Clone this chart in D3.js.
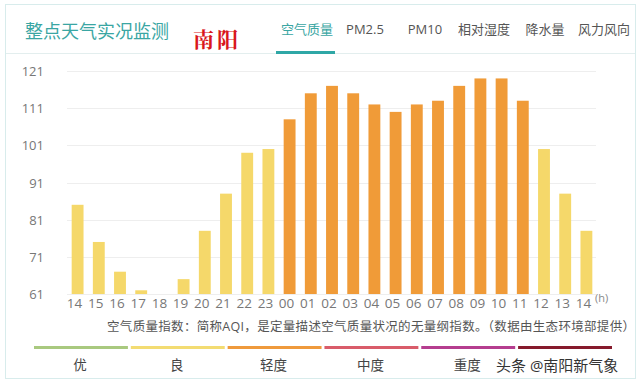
<!DOCTYPE html>
<html>
<head>
<meta charset="utf-8">
<script src="https://cdn.jsdelivr.net/npm/d3@7"></script>
<style>
  body { margin: 0; background: #fff; }
  svg text { font-family: "Open Sans", "Noto Sans CJK SC", sans-serif; }
</style>
</head>
<body>
<svg width="640" height="383"></svg>
<script>
// hourly AQI, 14h yesterday .. 14h today
const hours = ["14","15","16","17","18","19","20","21","22","23","00","01","02","03","04","05","06","07","08","09","10","11","12","13","14"]
const aqi = [85, 75, 67, 62, 61, 65, 78, 88, 99, 100, 108, 115, 117, 115, 112, 110, 112, 113, 117, 119, 119, 113, 100, 88, 78]
const yTicks = [61, 71, 81, 91, 101, 111, 121]
const tabs = ["空气质量", "PM2.5", "PM10", "相对湿度", "降水量", "风力风向"]
const tabX = [307, 365, 425, 484, 545, 604]
const levels = ["优", "良", "轻度", "中度", "重度", "严重"]
const levelColors = ["#a9c97f", "#f3dc72", "#ef9a3c", "#d95c6a", "#b53d8f", "#861a2c"]

const svg = d3.select("svg")

// frame
svg.append("rect").attr("x", 5.5).attr("y", 4.5).attr("width", 630).attr("height", 374)
    .attr("fill", "none").attr("stroke", "#d8ecec")
svg.append("line").attr("x1", 6).attr("x2", 635).attr("y1", 53.5).attr("y2", 53.5)
    .attr("stroke", "#e3eeee")

// header
svg.append("text").attr("x", 25).attr("y", 38).text("整点天气实况监测")
    .attr("fill", "#3aa6a3").style("font-size", "18px")
svg.append("text").attr("x", 193).attr("y", 47).text("南阳")
    .attr("fill", "#d9161c").style("font-size", "21px").style("font-weight", "bold")
    .style("font-family", "'Noto Serif CJK SC', 'AR PL UKai CN', serif").style("letter-spacing", "3px")

svg.selectAll(".tab").data(tabs).enter().append("text")
    .attr("x", (d, i) => tabX[i]).attr("y", 34)
    .attr("text-anchor", "middle")
    .attr("fill", (d, i) => i == 0 ? "#3aa6a3" : "#555")
    .style("font-size", "13px")
    .text(d => d)
svg.append("rect").attr("x", 276).attr("y", 51).attr("width", 59).attr("height", 3).attr("fill", "#2fa7a6")

// chart
const x = d3.scaleBand().domain(d3.range(hours.length)).range([67, 597]).paddingInner(0.44).paddingOuter(0.22)
const y = d3.scaleLinear().domain([61, 121]).range([294, 71])

svg.append("g").selectAll("line").data(yTicks).enter().append("line")
    .attr("x1", 67).attr("x2", 596)
    .attr("y1", d => Math.round(y(d)) + 0.5).attr("y2", d => Math.round(y(d)) + 0.5)
    .attr("stroke", "#eeeeee")

svg.append("g").selectAll("text").data(yTicks).enter().append("text")
    .attr("x", 44).attr("y", d => y(d) + 5)
    .attr("text-anchor", "end").attr("fill", "#777").style("font-size", "13px")
    .text(d => d)

svg.append("g").selectAll("rect").data(aqi).enter().append("rect")
    .attr("x", (d, i) => x(i))
    .attr("width", x.bandwidth())
    .attr("y", d => y(d))
    .attr("height", d => y(61) - y(d))
    .attr("fill", d => d <= 100 ? "#f5d86a" : "#f09b38")

svg.append("g").selectAll("text").data(hours).enter().append("text")
    .attr("x", (d, i) => x(i) + x.bandwidth() / 2 - 3).attr("y", 308)
    .attr("text-anchor", "middle").attr("fill", "#777").style("font-size", "13.5px")
    .text(d => d)
svg.append("text").attr("x", 595).attr("y", 302).text("(h)")
    .attr("fill", "#888").style("font-size", "11px")

svg.append("text").attr("x", 107).attr("y", 331)
    .attr("textLength", 528).attr("lengthAdjust", "spacing")
    .attr("fill", "#555").style("font-size", "12.5px")
    .text("空气质量指数：简称AQI，是定量描述空气质量状况的无量纲指数。（数据由生态环境部提供）")

// level legend
const lx = d3.scaleBand().domain(d3.range(levels.length)).range([34, 612]).paddingInner(0.03)
svg.append("g").selectAll("rect").data(levelColors).enter().append("rect")
    .attr("x", (d, i) => lx(i)).attr("width", lx.bandwidth())
    .attr("y", 346).attr("height", 3).attr("fill", d => d)
svg.append("g").selectAll("text").data(levels.slice(0, 5)).enter().append("text")
    .attr("x", (d, i) => lx(i) + lx.bandwidth() / 2 - 1).attr("y", 370)
    .attr("text-anchor", "middle").attr("fill", "#444").style("font-size", "13.5px")
    .text(d => d)

// watermark
svg.append("text").attr("x", 496).attr("y", 371).text("头条 @南阳新气象")
    .attr("fill", "#333").attr("stroke", "#fff").attr("stroke-width", 2.5)
    .attr("paint-order", "stroke").style("font-size", "15px")
</script>
</body>
</html>
